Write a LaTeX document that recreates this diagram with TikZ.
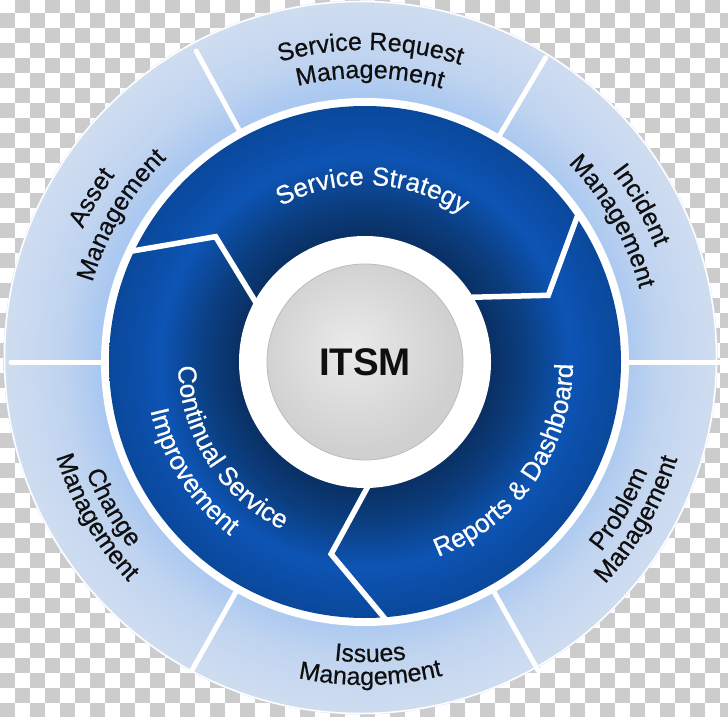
\documentclass[tikz,border=0pt]{standalone}
\usepackage{fontspec}
\setmainfont{Liberation Sans}
\newfontfamily\lblfont{Liberation Sans}[FakeBold=0.5]
\usetikzlibrary{decorations.text}
\definecolor{chk}{RGB}{204,204,204}
\definecolor{lrA}{RGB}{170,200,240}
\definecolor{lrB}{RGB}{192,212,240}
\definecolor{lrC}{RGB}{208,221,240}
\definecolor{drA}{RGB}{10,48,100}
\definecolor{drB}{RGB}{11,62,128}
\definecolor{drC}{RGB}{13,84,180}
\definecolor{drD}{RGB}{10,72,155}
\definecolor{gcA}{RGB}{234,234,234}
\definecolor{gcB}{RGB}{208,208,208}
\definecolor{txt}{RGB}{15,15,15}
\pgfdeclareradialshading{lightring}{\pgfpoint{0bp}{0bp}}{color(0bp)=(lrA); color(18.4bp)=(lrA); color(21bp)=(lrB); color(25bp)=(lrC); color(50bp)=(lrC)}
\pgfdeclareradialshading{darkring}{\pgfpoint{0bp}{0bp}}{color(0bp)=(drA); color(12.3bp)=(drA); color(15.6bp)=(drB); color(20bp)=(drC); color(25bp)=(drD); color(50bp)=(drD)}
\pgfdeclareradialshading{graydisc}{\pgfpoint{-4bp}{4bp}}{color(0bp)=(gcA); color(25bp)=(gcB); color(50bp)=(gcB)}
\newcommand\olbl{\lblfont\fontsize{25}{30}\selectfont}
\newcommand\ilbl{\lblfont\fontsize{26}{30}\selectfont}
\newcommand\arccw[4]{%
  \path[shift={(365,354)},decorate,decoration={text along path,text={#4},text align=center,text color=#3}]
    (#2+60:#1pt) arc[start angle=#2+60,end angle=#2-60,radius=#1pt];}
\newcommand\arcccw[4]{%
  \path[shift={(365,354)},decorate,decoration={text along path,text={#4},text align=center,text color=#3}]
    (#2-60:#1pt) arc[start angle=#2-60,end angle=#2+60,radius=#1pt];}
\tikzset{
  sepline/.style={white,line width=5pt,line cap=round},
  zigline/.style={white,line width=5.5pt,line join=miter}
}
\begin{document}
\begin{tikzpicture}[x=1pt,y=1pt]
\useasboundingbox (0,0) rectangle (728,716);
\clip (0,0) rectangle (728,716);
% transparent-background checkerboard
\fill[white] (0,0) rectangle (728,716);
\foreach \i in {0,...,48}{\foreach \j in {0,...,48}{
  \pgfmathtruncatemacro\s{mod(\i+\j,2)}
  \ifnum\s=1 \fill[chk] (15*\i,717.7-15*\j) rectangle ++(15,-15); \fi}}
% outer light ring
\shade[shading=lightring] (360.5,358.5) circle[radius=357pt];
\draw[white,line width=1.5pt] (360.5,358.5) circle[radius=356pt];
\fill[white] (365,354) circle[radius=264pt];
% dark ring
\shade[shading=darkring] (365,354) circle[radius=256pt];
% centre
\fill[white] (365,354) circle[radius=126pt];
\shade[shading=graydisc,draw=gcB!90!black,line width=0.8pt] (365,354) circle[radius=98pt];
% separators of outer ring
\foreach \a in {118.5,59.3,0,180,240.7,299.3}
  \draw[sepline,shift={(365,354)}] (\a:262pt) -- (\a:354pt);
% zigzag separators of dark ring
\foreach \t in {140,20,260}
  \draw[zigline,shift={(365,354)}] (\t+15:261pt) -- (\t:195pt) -- (\t+12:122pt);
% centre label
\node[font=\fontsize{38.5}{40}\selectfont\bfseries,text=txt] (itsm) at (365,354) {ITSM};
% outer labels
\arccw{312}{89}{txt}{|\olbl|Service Request}
\arccw{284}{89}{txt}{|\olbl|Management}
\arccw{312}{29.6}{txt}{|\olbl|Incident}
\arccw{284}{29.6}{txt}{|\olbl|Management}
\arccw{312}{149}{txt}{|\olbl|Asset}
\arccw{284}{149}{txt}{|\olbl|Management}
\arcccw{300}{271}{txt}{|\olbl|Issues}
\arcccw{323}{271}{txt}{|\olbl|Management}
\arcccw{300}{210}{txt}{|\olbl|Change}
\arcccw{323}{210}{txt}{|\olbl|Management}
\arcccw{303}{330}{txt}{|\olbl|Problem}
\arcccw{327}{330}{txt}{|\olbl|Management}
% inner labels
\arccw{177}{87.5}{white}{|\ilbl|Service Strategy}
\arcccw{187}{212.5}{white}{|\ilbl|Continual Service}
\arcccw{220}{212.5}{white}{|\ilbl|Improvement}
\arcccw{208}{-35}{white}{|\ilbl|Reports {\&} Dashboard}
\end{tikzpicture}
\end{document}
